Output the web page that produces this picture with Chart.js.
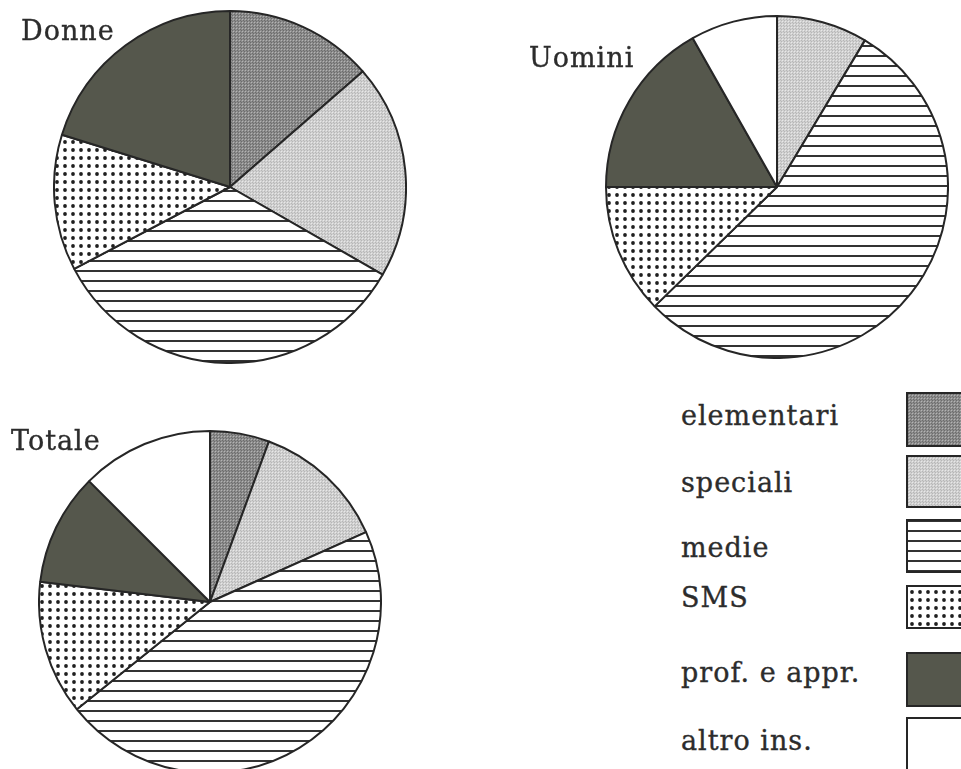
<!DOCTYPE html>
<html>
<head>
<meta charset="utf-8">
<script src="https://cdn.jsdelivr.net/npm/chart.js@4.4.1/dist/chart.umd.min.js"></script>
<style>
  html, body { margin: 0; padding: 0; background: #fff; }
  body { width: 961px; height: 769px; position: relative; overflow: hidden; }
  canvas.pie { position: absolute; }
  .lbl {
    position: absolute; white-space: nowrap; line-height: 1;
    font-family: "DejaVu Serif", serif; font-size: 27px; letter-spacing: 1px;
    color: #2c2c2c; -webkit-text-stroke: 0.35px #2c2c2c;
  }
  #legendSwatches { position: absolute; left: 900px; top: 380px; }
</style>
</head>
<body>
<canvas id="pieDonne" class="pie"></canvas>
<canvas id="pieUomini" class="pie"></canvas>
<canvas id="pieTotale" class="pie"></canvas>
<canvas id="legendSwatches" width="61" height="389"></canvas>

<script>
// categories (clockwise from 12 o'clock)
const categories = ['elementari', 'speciali', 'medie', 'SMS', 'prof. e appr.', 'altro ins.'];

// shares in %
const donneValues  = [13.6, 19.7, 34.0, 12.5, 20.2, 0];
const uominiValues = [0, 8.6, 54.1, 12.3, 16.8, 8.2];
const totaleValues = [5.6, 12.7, 45.9, 12.7, 10.6, 12.5];

// pie placement: centre x, centre y, radius, title position
const pies = [
    { id: 'pieDonne',  title: 'Donne',  values: donneValues,  cx: 230, cy: 187, r: 175, tx: 21,  ty: 40 },
    { id: 'pieUomini', title: 'Uomini', values: uominiValues, cx: 777, cy: 187, r: 170, tx: 529, ty: 67 },
    { id: 'pieTotale', title: 'Totale', values: totaleValues, cx: 210, cy: 602, r: 170, tx: 11,  ty: 450 }
];

// legend rows: swatch top/height and label baseline
const legendRows = [
    { top: 392, h: 55, base: 425 },
    { top: 455, h: 53, base: 492 },
    { top: 519, h: 54, base: 557 },
    { top: 585, h: 44, base: 607 },
    { top: 652, h: 55, base: 682 },
    { top: 717, h: 60, base: 750 }
];

const LINE = '#262626';
const BASE_OFF = 23; // top of text box -> baseline

function tile(w, h, draw) {
    const c = document.createElement('canvas');
    c.width = w; c.height = h;
    const g = c.getContext('2d');
    draw(g);
    return g.createPattern(c, 'repeat');
}

function grain(base, light, dark) {
    return tile(3, 3, g => {
        g.fillStyle = base; g.fillRect(0, 0, 3, 3);
        g.fillStyle = light; g.fillRect(0, 0, 1, 1);
        g.fillStyle = dark; g.fillRect(1, 1, 1, 1); g.fillRect(2, 2, 1, 1);
    });
}

const fills = [
    grain('#8c8c8c', '#b4b4b4', '#6c6c6c'),       // elementari
    grain('#d0d0d0', '#e8e8e8', '#b6b6b6'),       // speciali
    tile(10, 10, g => {                           // medie: horizontal lines
        g.fillStyle = '#fff'; g.fillRect(0, 0, 10, 10);
        g.fillStyle = '#333'; g.fillRect(0, 0, 10, 2);
    }),
    tile(8, 8, g => {                             // SMS: dot grid
        g.fillStyle = '#fff'; g.fillRect(0, 0, 8, 8);
        g.fillStyle = '#1f1f1f';
        g.beginPath(); g.arc(4, 4, 1.9, 0, Math.PI * 2); g.fill();
    }),
    '#55574c',                                    // prof. e appr.
    '#ffffff'                                     // altro ins.
];

pies.forEach(p => {
    const size = 2 * p.r + 4;
    const cv = document.getElementById(p.id);
    cv.width = size; cv.height = size;
    cv.style.left = (p.cx - size / 2) + 'px';
    cv.style.top = (p.cy - size / 2) + 'px';

    new Chart(cv, {
        type: 'pie',
        data: {
            labels: categories,
            datasets: [{
                data: p.values,
                backgroundColor: fills,
                borderColor: LINE,
                borderWidth: 2
            }]
        },
        options: {
            responsive: false,
            animation: false,
            layout: { padding: 0 },
            plugins: { legend: { display: false }, tooltip: { enabled: false } }
        }
    });

    const t = document.createElement('div');
    t.className = 'lbl';
    t.textContent = p.title;
    t.style.left = p.tx + 'px';
    t.style.top = (p.ty - BASE_OFF) + 'px';
    document.body.appendChild(t);
});

// legend labels
categories.forEach((name, i) => {
    const d = document.createElement('div');
    d.className = 'lbl';
    d.textContent = name;
    d.style.left = '681px';
    d.style.top = (legendRows[i].base - BASE_OFF) + 'px';
    document.body.appendChild(d);
});

// legend swatches
const lg = document.getElementById('legendSwatches').getContext('2d');
legendRows.forEach((row, i) => {
    const y = row.top - 380;
    lg.fillStyle = fills[i];
    lg.fillRect(6, y, 60, row.h);
    lg.strokeStyle = LINE;
    lg.lineWidth = 2;
    lg.strokeRect(7, y + 1, 60, row.h - 2);
});
</script>
</body>
</html>
